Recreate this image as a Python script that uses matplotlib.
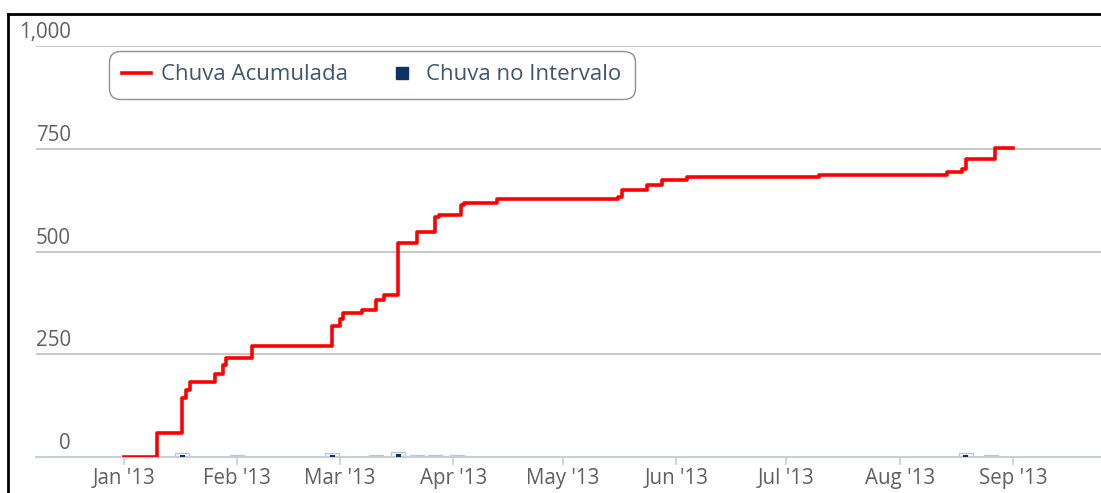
import matplotlib
matplotlib.use("Agg")
import matplotlib.pyplot as plt
import matplotlib.dates as mdates
import matplotlib.transforms as mtransforms
from matplotlib.lines import Line2D
import numpy as np
import pandas as pd

# accumulated rain (mm), step changes
acum_dates = ["2013-01-01", "2013-01-10", "2013-01-17", "2013-01-18", "2013-01-19",
              "2013-01-26", "2013-01-28", "2013-01-29", "2013-02-05", "2013-02-27",
              "2013-03-01", "2013-03-02", "2013-03-07", "2013-03-11", "2013-03-13",
              "2013-03-17", "2013-03-22", "2013-03-27", "2013-03-28", "2013-04-03",
              "2013-04-04", "2013-04-13", "2013-05-16", "2013-05-17", "2013-05-24",
              "2013-05-28", "2013-06-04", "2013-07-10", "2013-08-14", "2013-08-18",
              "2013-08-19", "2013-08-27", "2013-09-01"]
acum_vals = [0, 58, 143, 163, 182,
             202, 224, 241, 270, 319,
             335, 350, 357, 382, 394,
             521, 547, 584, 589, 612,
             618, 628, 633, 650, 662,
             674, 681, 686, 693, 700,
             725, 752, 752]

# rain in interval (tiny columns at the baseline)
interv_dates = ["2013-01-17", "2013-02-01", "2013-02-27", "2013-03-11", "2013-03-17",
                "2013-03-22", "2013-03-27", "2013-04-02", "2013-08-19", "2013-08-26"]
interv_vals = [9, 5, 10, 6, 11, 6, 6, 6, 10, 5]

yticks = [0, 250, 500, 750, 1000]
ytick_labels = ["0", "250", "500", "750", "1,000"]
month_ticks = pd.date_range("2013-01-01", "2013-09-01", freq="MS")

plt.rcParams['font.family'] = ['Open Sans', 'DejaVu Sans']

fig = plt.figure(figsize=(11.01, 4.93), dpi=100)
ax = fig.add_axes([36/1101, 36/493, 1065/1101, 411/493])

ax.set_xlim(pd.Timestamp("2012-12-08"), pd.Timestamp("2013-09-25"))
ax.set_ylim(0, 1000)

# grid lines
for v in yticks[1:]:
    ax.axhline(v, color='#c8c8c8', lw=1.4, zorder=0)

# interval columns
idates = pd.to_datetime(interv_dates)
ivals = np.array(interv_vals)
ax.bar(idates, ivals, width=3.8, color='#f6f6f6', edgecolor='#c4c4c4', lw=0.9, zorder=2)
dark = ivals >= 9
ax.bar(idates[dark], ivals[dark] * 0.6, width=1.4, color='#0d3366', lw=0, zorder=3)

# accumulated line
ax.plot(pd.to_datetime(acum_dates), acum_vals, drawstyle='steps-post',
        color='#ff0000', lw=2.6, zorder=4)

for s in ['top', 'right', 'left']:
    ax.spines[s].set_visible(False)
ax.spines['bottom'].set_color('#c0d0e0')
ax.spines['bottom'].set_linewidth(1.4)

ax.set_xticks(month_ticks)
ax.xaxis.set_major_formatter(mdates.DateFormatter("%b '%y"))
ax.tick_params(axis='x', colors='#c0d0e0', length=6, width=1.2, labelsize=14.8,
               labelcolor='#606060', pad=2)
ax.set_yticks([])

off = mtransforms.offset_copy(ax.get_yaxis_transform(), fig=fig, x=0, y=3, units='dots')
for v, lab in zip(yticks, ytick_labels):
    ax.text(35/1065, v, lab, transform=off, ha='right', va='bottom',
            fontsize=14.8, color='#606060', clip_on=False)

handles = [Line2D([], [], color='#ff0000', lw=2.6),
           Line2D([], [], color='none', marker='s', markersize=9,
                  markerfacecolor='#0d3366', markeredgecolor='#0d3366')]
leg = ax.legend(handles, ["Chuva Acumulada", "Chuva no Intervalo"], ncol=2,
                loc='upper left', bbox_to_anchor=(109/1101, 1 - 51/493),
                bbox_transform=fig.transFigure, borderaxespad=0, fontsize=16,
                frameon=True, fancybox=True, edgecolor='#909090', framealpha=1,
                handlelength=1.3, handletextpad=0.45,
                columnspacing=1.75, borderpad=0.6)
leg.get_frame().set_linewidth(1.0)
leg.get_frame().set_boxstyle('round', pad=0, rounding_size=0.5)
for t in leg.get_texts():
    t.set_color('#3e576f')

# screenshot frame (top and left edges)
fig.add_artist(Line2D([8/1101, 1], [1 - 14/493, 1 - 14/493], color='black', lw=2,
                      transform=fig.transFigure))
fig.add_artist(Line2D([8/1101, 8/1101], [0, 1 - 14/493], color='black', lw=2,
                      transform=fig.transFigure))

fig.savefig("out.png", dpi=100)
